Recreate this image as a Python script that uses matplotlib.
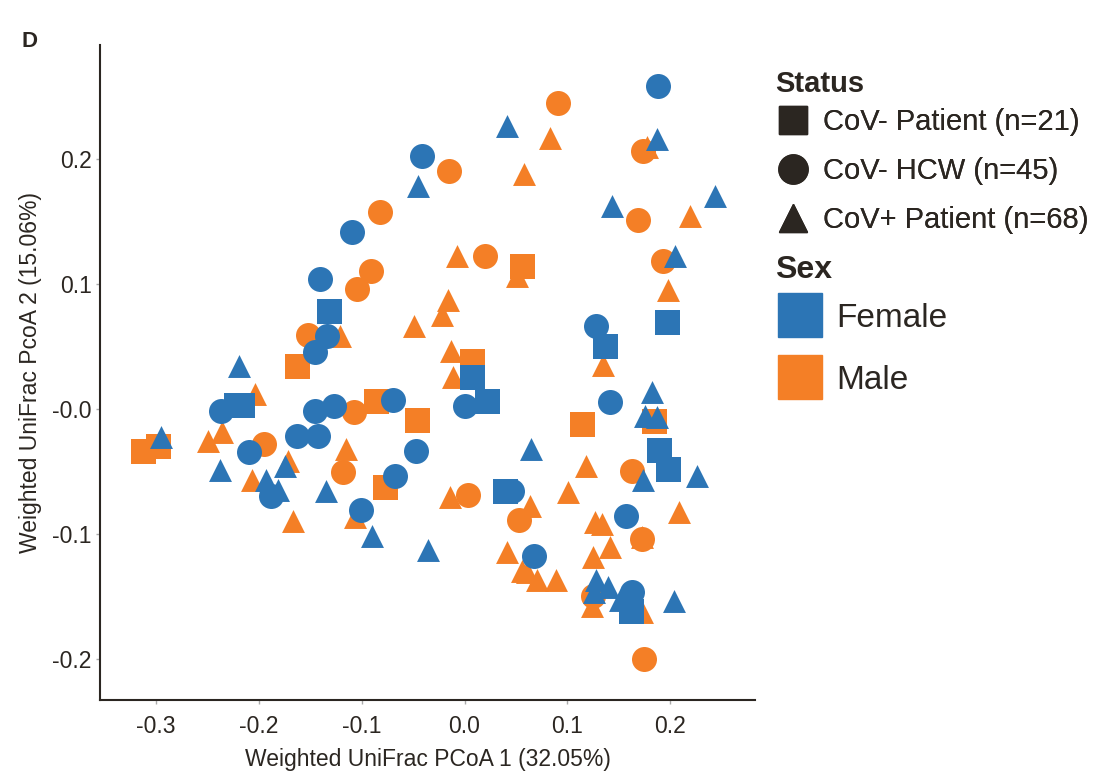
import matplotlib.pyplot as plt
from matplotlib.lines import Line2D

plt.rcParams['font.family'] = ['Liberation Sans', 'DejaVu Sans']

blue = '#2c75b5'
orange = '#f47f26'
ink = '#2b2621'

# CoV- Patient, female / male
sq_f_x = [-0.132, 0.197, 0.137, 0.007, 0.022, -0.222, -0.216, 0.189, 0.198, 0.039, 0.162]
sq_f_y = [0.078, 0.069, 0.050, 0.025, 0.006, 0.003, 0.003, -0.033, -0.048, -0.066, -0.162]
sq_m_x = [0.056, -0.163, 0.007, -0.086, -0.046, 0.114, 0.184, -0.313, -0.298, -0.077]
sq_m_y = [0.114, 0.034, 0.038, 0.006, -0.009, -0.012, -0.010, -0.034, -0.030, -0.063]

# CoV- HCW, female / male
ci_f_x = [0.188, -0.041, -0.109, -0.141, -0.134, -0.145, 0.128, 0.000, -0.237, -0.163,
          -0.143, -0.145, -0.127, -0.070, 0.142, -0.210, -0.188, -0.068, -0.047, -0.101,
          0.046, 0.157, 0.068, 0.163]
ci_f_y = [0.258, 0.202, 0.141, 0.104, 0.058, 0.045, 0.066, 0.002, -0.002, -0.022,
          -0.022, -0.002, 0.002, 0.007, 0.005, -0.035, -0.070, -0.054, -0.034, -0.081,
          -0.066, -0.086, -0.118, -0.147]
ci_m_x = [0.091, 0.174, -0.015, 0.169, -0.082, 0.020, 0.193, -0.091, -0.105, -0.152,
          -0.108, -0.195, -0.118, 0.163, 0.003, 0.053, 0.173, 0.125, 0.175]
ci_m_y = [0.245, 0.206, 0.190, 0.151, 0.157, 0.122, 0.118, 0.110, 0.096, 0.059,
          -0.003, -0.028, -0.051, -0.050, -0.069, -0.089, -0.104, -0.150, -0.200]

# CoV+ Patient, female / male
tr_f_x = [0.041, 0.187, -0.045, 0.143, 0.244, 0.205, -0.219, 0.182, 0.176, 0.187,
          0.226, -0.295, -0.238, -0.193, -0.181, -0.175, -0.135, -0.090, -0.036, 0.065,
          0.174, 0.128, 0.140, 0.126, 0.151, 0.204]
tr_f_y = [0.226, 0.216, 0.178, 0.162, 0.170, 0.122, 0.034, 0.013, -0.006, -0.007,
          -0.054, -0.023, -0.049, -0.057, -0.065, -0.046, -0.066, -0.102, -0.113, -0.032,
          -0.057, -0.137, -0.143, -0.147, -0.153, -0.154]
tr_m_x = [0.083, 0.058, 0.178, 0.219, -0.007, 0.051, 0.198, -0.016, -0.022, -0.049,
          0.135, -0.121, -0.013, -0.011, -0.204, -0.250, -0.236, -0.207, -0.172, -0.115,
          -0.107, -0.167, 0.118, 0.101, -0.014, 0.064, 0.209, 0.173, 0.127, 0.134,
          0.041, 0.142, 0.125, 0.056, 0.061, 0.071, 0.089, 0.124, 0.173]
tr_m_y = [0.217, 0.188, 0.209, 0.154, 0.122, 0.106, 0.095, 0.087, 0.075, 0.066,
          0.035, 0.058, 0.046, 0.025, 0.012, -0.026, -0.019, -0.057, -0.042, -0.032,
          -0.087, -0.090, -0.046, -0.067, -0.071, -0.078, -0.083, -0.103, -0.091, -0.092,
          -0.115, -0.111, -0.119, -0.130, -0.131, -0.137, -0.137, -0.158, -0.163]

xticks = [-0.3, -0.2, -0.1, 0.0, 0.1, 0.2]
yticks = [0.2, 0.1, 0.0, -0.1, -0.2]
ylabels = ['0.2', '0.1', '-0.0', '-0.1', '-0.2']

fig = plt.figure(figsize=(11.19, 7.76), dpi=100)
ax = fig.add_axes([0.0894, 0.098, 0.5853, 0.844])

# male first, female on top
ax.scatter(sq_m_x, sq_m_y, marker='s', s=18**2, color=orange, linewidths=0)
ax.scatter(ci_m_x, ci_m_y, marker='o', s=18**2, color=orange, linewidths=0)
ax.scatter(tr_m_x, tr_m_y, marker='^', s=16.5**2, color=orange, linewidths=0)
ax.scatter(sq_f_x, sq_f_y, marker='s', s=18**2, color=blue, linewidths=0)
ax.scatter(ci_f_x, ci_f_y, marker='o', s=18**2, color=blue, linewidths=0)
ax.scatter(tr_f_x, tr_f_y, marker='^', s=16.5**2, color=blue, linewidths=0)

ax.set_xlim(-0.3546, 0.2826)
ax.set_ylim(-0.233, 0.291)
ax.set_xticks(xticks)
ax.set_xticklabels([f'{t:.1f}' for t in xticks])
ax.set_yticks(yticks)
ax.set_yticklabels(ylabels)
for side in ['top', 'right']:
    ax.spines[side].set_visible(False)
for side in ['left', 'bottom']:
    ax.spines[side].set_color(ink)
    ax.spines[side].set_linewidth(1.5)
ax.tick_params(axis='x', length=3, width=1, color='#aaaaaa', labelsize=16.5, labelcolor=ink, pad=8)
ax.tick_params(axis='y', length=3, width=1, color='#aaaaaa', labelsize=16.5, labelcolor=ink, pad=3)
ax.set_xlabel('Weighted UniFrac PCoA 1 (32.05%)', fontsize=16.5, color=ink, labelpad=7)
ax.set_ylabel('Weighted UniFrac PcoA 2 (15.06%)', fontsize=16.5, color=ink, labelpad=7)

fig.text(0.019, 0.946, 'D', fontsize=16, weight='bold', color=ink, va='center')

# legend titles
fig.text(775 / 1119, 1 - 84 / 776, 'Status', fontsize=21, weight='bold', color=ink, va='center')
fig.text(775 / 1119, 1 - 270 / 776, 'Sex', fontsize=23, weight='bold', color=ink, va='center')

status_h = [Line2D([], [], ls='', marker='s', ms=20, color=ink),
            Line2D([], [], ls='', marker='o', ms=21, color=ink),
            Line2D([], [], ls='', marker='^', ms=20, color=ink)]
status_l = ['CoV- Patient (n=21)', 'CoV- HCW (n=45)', 'CoV+ Patient (n=68)']
leg1 = fig.legend(status_h, status_l, loc='center left',
                  bbox_to_anchor=(0.682, 1 - 171 / 776), frameon=False, fontsize=21,
                  labelspacing=0.71, handlelength=1.05, handletextpad=0.5,
                  borderpad=0, labelcolor=ink)
fig.add_artist(leg1)

sex_h = [Line2D([], [], ls='', marker='s', ms=31, color=blue),
         Line2D([], [], ls='', marker='s', ms=31, color=orange)]
leg2 = fig.legend(sex_h, ['Female', 'Male'], loc='center left',
                  bbox_to_anchor=(0.680, 1 - 349.5 / 776), frameon=False, fontsize=24,
                  labelspacing=0.92, handlelength=1.35, handletextpad=0.42,
                  borderpad=0, labelcolor=ink)

fig.savefig('out.png')
